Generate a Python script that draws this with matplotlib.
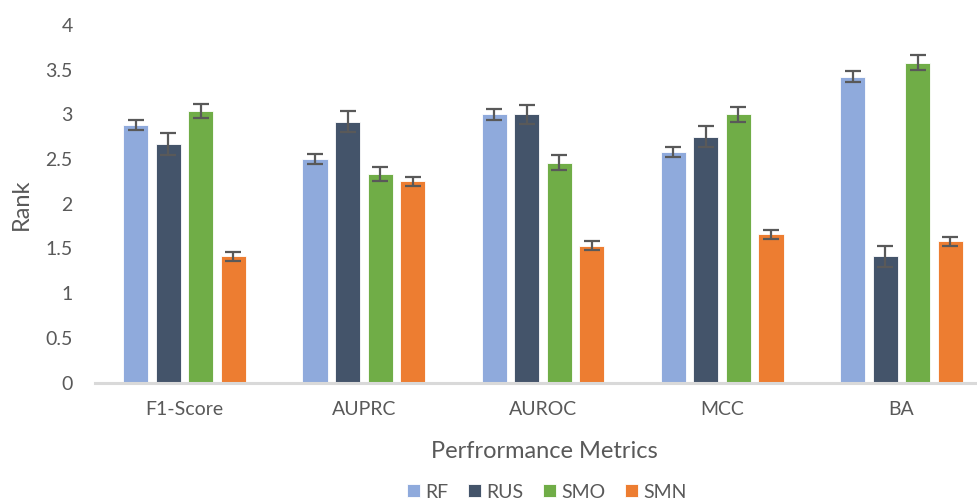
import matplotlib
matplotlib.use("Agg")
import matplotlib.pyplot as plt
import numpy as np

plt.rcParams['font.family'] = ['Lato', 'DejaVu Sans']

categories = ["F1-Score", "AUPRC", "AUROC", "MCC", "BA"]
series_names = ["RF", "RUS", "SMO", "SMN"]
rf = [2.88, 2.50, 3.00, 2.58, 3.42]
rus = [2.67, 2.92, 3.00, 2.75, 1.41]
smo = [3.04, 2.33, 2.46, 3.00, 3.58]
smn = [1.41, 2.25, 1.53, 1.66, 1.58]
rf_err = [0.06, 0.06, 0.06, 0.06, 0.06]
rus_err = [0.12, 0.12, 0.11, 0.12, 0.12]
smo_err = [0.08, 0.08, 0.08, 0.08, 0.08]
smn_err = [0.05, 0.05, 0.05, 0.05, 0.05]
colors = ["#8FAADC", "#44546A", "#70AD47", "#ED7D31"]
yticks = [0, 0.5, 1, 1.5, 2, 2.5, 3, 3.5, 4]
ytick_labels = ["0", "0.5", "1", "1.5", "2", "2.5", "3", "3.5", "4"]

text_color = "#595959"

fig = plt.figure(figsize=(9.77, 5.03), dpi=100)
ax = fig.add_axes([95/977, 120.5/503, (991-95)/977, 357.5/503])

x = np.arange(len(categories))
width = 0.14
step = 0.1815
values = [rf, rus, smo, smn]
errs = [rf_err, rus_err, smo_err, smn_err]
for i, (vals, er, c, name) in enumerate(zip(values, errs, colors, series_names)):
    ax.bar(x + (i - 1.5) * step, vals, width, color=c, label=name,
           yerr=er, error_kw=dict(ecolor="#595959", elinewidth=1.6, capsize=5.5, capthick=1.6),
           edgecolor="white", linewidth=0.6, zorder=2)

ax.set_xlim(-0.5, 4.5)
ax.set_ylim(0, 4)
ax.set_xticks(x)
ax.set_xticklabels(categories)
ax.set_yticks(yticks)
ax.set_yticklabels(ytick_labels)
ax.tick_params(axis='both', length=0, labelsize=14, colors=text_color)
ax.tick_params(axis='y', pad=16)
ax.tick_params(axis='x', pad=13)
for s in ["top", "right", "left"]:
    ax.spines[s].set_visible(False)
ax.spines["bottom"].set_color("#D9D9D9")
ax.spines["bottom"].set_linewidth(2.2)
ax.spines["bottom"].set_zorder(3)

ax.set_ylabel("Rank", fontsize=17, color=text_color)
ax.set_xlabel("Perfrormance Metrics", fontsize=17, color=text_color)
ax.yaxis.set_label_coords(-74/896, 0.5)
ax.xaxis.set_label_coords(544/896 - 95/896, -(451 - 382.5) / 357.5)
ax.xaxis.label.set_verticalalignment("center")
ax.yaxis.label.set_verticalalignment("center")

leg = fig.legend(loc="center", bbox_to_anchor=(547/977, 1 - 492/503), ncol=4, frameon=False,
                 fontsize=14, handlelength=0.65, handleheight=0.65, handletextpad=0.3,
                 columnspacing=1.0, labelcolor=text_color)

fig.savefig("out.png", dpi=100)
